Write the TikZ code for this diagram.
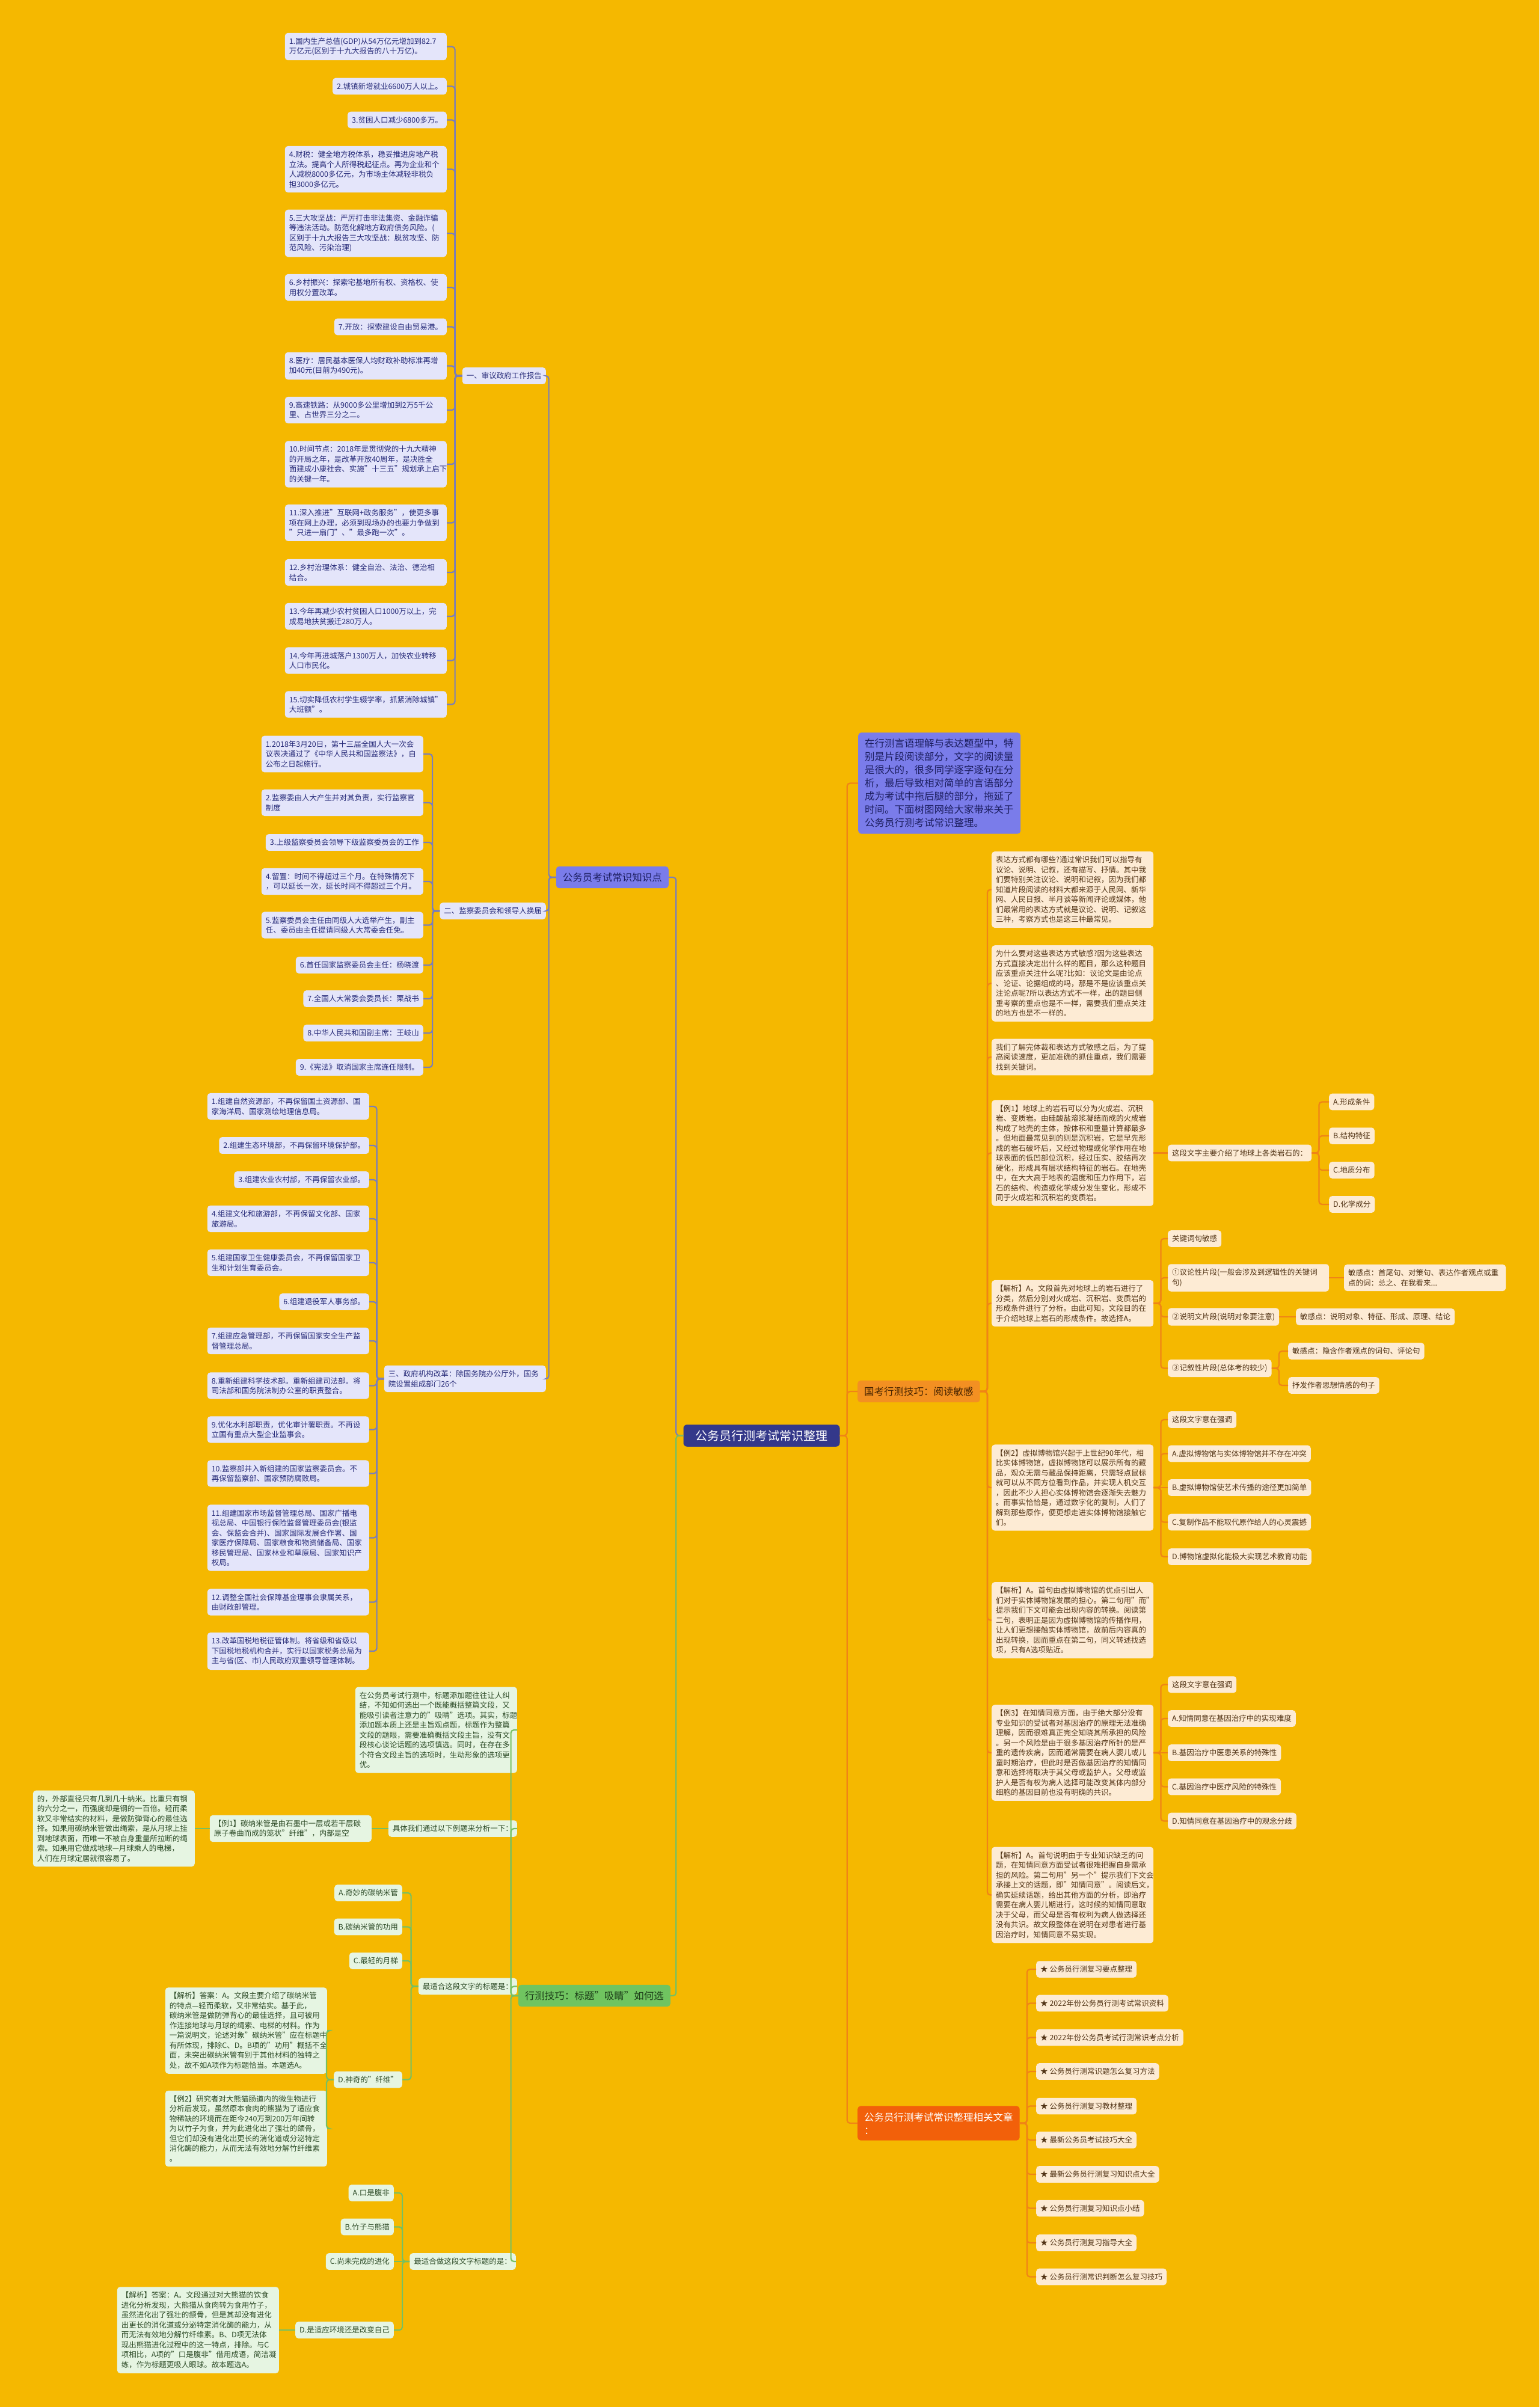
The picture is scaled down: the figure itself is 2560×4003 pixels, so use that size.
\documentclass[tikz,border=0pt]{standalone}
\usepackage{fontspec}
\setmainfont{Noto Sans CJK SC}
\usetikzlibrary{calc}
\definecolor{bgc}{RGB}{245,184,0}
\definecolor{lavfill}{RGB}{228,229,250}
\definecolor{lavtext}{RGB}{38,42,120}
\definecolor{lavline}{RGB}{122,126,186}
\definecolor{perifill}{RGB}{122,124,234}
\definecolor{peritext}{RGB}{28,30,95}
\definecolor{navyc}{RGB}{52,56,138}
\definecolor{grnfill}{RGB}{230,245,226}
\definecolor{grntext}{RGB}{44,74,38}
\definecolor{grnline}{RGB}{118,192,98}
\definecolor{grnhead}{RGB}{112,196,96}
\definecolor{grnheadtext}{RGB}{28,60,24}
\definecolor{orgfill}{RGB}{253,235,212}
\definecolor{orgtext}{RGB}{82,52,22}
\definecolor{orgline}{RGB}{240,132,22}
\definecolor{orghead}{RGB}{243,144,34}
\definecolor{orgheadtext}{RGB}{72,36,0}
\definecolor{redhead}{RGB}{242,96,10}
\newcommand\mmsmall{\fontsize{12.5}{16.5}\selectfont}
\newcommand\mmmid{\fontsize{16.5}{22}\selectfont}
\newcommand\mmbig{\fontsize{20}{24}\selectfont}
\tikzset{
  box/.style={rounded corners=5pt, align=left, inner xsep=7pt, inner ysep=8pt, font=\mmsmall},
  lav/.style={box, fill=lavfill, text=lavtext},
  grn/.style={box, fill=grnfill, text=grntext},
  org/.style={box, fill=orgfill, text=orgtext},
  tw/.style={text width=255pt},
  head/.style={rounded corners=5pt, align=left, inner xsep=11pt, inner ysep=10.5pt, font=\mmmid},
  lcon/.style={draw=lavline, line width=2.2pt, rounded corners=5pt},
  gcon/.style={draw=grnline, line width=2.2pt, rounded corners=5pt},
  ocon/.style={draw=orgline, line width=2.2pt, rounded corners=5pt},
}
\newcommand\cL[3]{\draw[#1] (#2.west) -- ++(-12,0) |- (#3.east);}
\newcommand\cR[3]{\draw[#1] (#2.east) -- ++(12,0) |- (#3.west);}
\begin{document}
\begin{tikzpicture}[x=1pt,y=-1pt]
\fill[bgc] (0,0) rectangle (2560,4003);
\useasboundingbox (0,0) rectangle (2560,4003);

% ---------- centre ----------
\node[fill=navyc, text=white, rounded corners=6pt, font=\mmbig, inner xsep=20pt, inner ysep=9pt] (C) at (1266.5,2387.5) {公务员行测考试常识整理};

% ---------- left: 公务员考试常识知识点 ----------
\node[head, fill=perifill, text=peritext, anchor=east] (K) at (1112,1459) {公务员考试常识知识点};
\node[lav, anchor=east] (s1) at (908,625) {一、审议政府工作报告};
\node[lav, anchor=east] (s2) at (908,1515) {二、监察委员会和领导人换届};
\node[lav, tw, anchor=east] (s3) at (908,2293) {三、政府机构改革：除国务院办公厅外，国务\\院设置组成部门26个};

\node[lav, tw, anchor=east] (n1) at (743,77.5) {1.国内生产总值(GDP)从54万亿元增加到82.7\\万亿元(区别于十九大报告的八十万亿)。};
\node[lav, anchor=east] (n2) at (743,143.5) {2.城镇新增就业6600万人以上。};
\node[lav, anchor=east] (n3) at (743,199.5) {3.贫困人口减少6800多万。};
\node[lav, tw, anchor=east] (n4) at (743,281.5) {4.财税：健全地方税体系，稳妥推进房地产税\\立法。提高个人所得税起征点。再为企业和个\\人减税8000多亿元，为市场主体减轻非税负\\担3000多亿元。};
\node[lav, tw, anchor=east] (n5) at (743,388) {5.三大攻坚战：严厉打击非法集资、金融诈骗\\等违法活动。防范化解地方政府债务风险。(\\区别于十九大报告三大攻坚战：脱贫攻坚、防\\范风险、污染治理)};
\node[lav, tw, anchor=east] (n6) at (743,478) {6.乡村振兴：探索宅基地所有权、资格权、使\\用权分置改革。};
\node[lav, anchor=east] (n7) at (743,543.5) {7.开放：探索建设自由贸易港。};
\node[lav, tw, anchor=east] (n8) at (743,608.5) {8.医疗：居民基本医保人均财政补助标准再增\\加40元(目前为490元)。};
\node[lav, tw, anchor=east] (n9) at (743,682) {9.高速铁路：从9000多公里增加到2万5千公\\里、占世界三分之二。};
\node[lav, tw, anchor=east] (n10) at (743,772) {10.时间节点：2018年是贯彻党的十九大精神\\的开局之年，是改革开放40周年，是决胜全\\面建成小康社会、实施"十三五"规划承上启下\\的关键一年。};
\node[lav, tw, anchor=east] (n11) at (743,869.5) {11.深入推进"互联网+政务服务"，使更多事\\项在网上办理，必须到现场办的也要力争做到\\"只进一扇门"、"最多跑一次"。};
\node[lav, tw, anchor=east] (n12) at (743,952) {12.乡村治理体系：健全自治、法治、德治相\\结合。};
\node[lav, tw, anchor=east] (n13) at (743,1025) {13.今年再减少农村贫困人口1000万以上，完\\成易地扶贫搬迁280万人。};
\node[lav, tw, anchor=east] (n14) at (743,1098.5) {14.今年再进城落户1300万人，加快农业转移\\人口市民化。};
\node[lav, tw, anchor=east] (n15) at (743,1171.5) {15.切实降低农村学生辍学率，抓紧消除城镇"\\大班额"。};

\node[lav, tw, anchor=east] (m1) at (704,1254) {1.2018年3月20日，第十三届全国人大一次会\\议表决通过了《中华人民共和国监察法》，自\\公布之日起施行。};
\node[lav, tw, anchor=east] (m2) at (704,1335) {2.监察委由人大产生并对其负责，实行监察官\\制度};
\node[lav, anchor=east] (m3) at (704,1401) {3.上级监察委员会领导下级监察委员会的工作};
\node[lav, tw, anchor=east] (m4) at (704,1466) {4.留置：时间不得超过三个月。在特殊情况下\\，可以延长一次，延长时间不得超过三个月。};
\node[lav, tw, anchor=east] (m5) at (704,1538.5) {5.监察委员会主任由同级人大选举产生，副主\\任、委员由主任提请同级人大常委会任免。};
\node[lav, anchor=east] (m6) at (704,1605) {6.首任国家监察委员会主任：杨晓渡};
\node[lav, anchor=east] (m7) at (704,1661) {7.全国人大常委会委员长：栗战书};
\node[lav, anchor=east] (m8) at (704,1718) {8.中华人民共和国副主席：王岐山};
\node[lav, anchor=east] (m9) at (704,1775) {9.《宪法》取消国家主席连任限制。};

\node[lav, tw, anchor=east] (g1) at (614,1840) {1.组建自然资源部，不再保留国土资源部、国\\家海洋局、国家测绘地理信息局。};
\node[lav, anchor=east] (g2) at (614,1905) {2.组建生态环境部，不再保留环境保护部。};
\node[lav, anchor=east] (g3) at (614,1962) {3.组建农业农村部，不再保留农业部。};
\node[lav, tw, anchor=east] (g4) at (614,2027) {4.组建文化和旅游部，不再保留文化部、国家\\旅游局。};
\node[lav, tw, anchor=east] (g5) at (614,2100) {5.组建国家卫生健康委员会，不再保留国家卫\\生和计划生育委员会。};
\node[lav, anchor=east] (g6) at (614,2165) {6.组建退役军人事务部。};
\node[lav, tw, anchor=east] (g7) at (614,2230) {7.组建应急管理部，不再保留国家安全生产监\\督管理总局。};
\node[lav, tw, anchor=east] (g8) at (614,2304.5) {8.重新组建科学技术部。重新组建司法部。将\\司法部和国务院法制办公室的职责整合。};
\node[lav, tw, anchor=east] (g9) at (614,2377.5) {9.优化水利部职责，优化审计署职责。不再设\\立国有重点大型企业监事会。};
\node[lav, tw, anchor=east] (g10) at (614,2450.5) {10.监察部并入新组建的国家监察委员会。不\\再保留监察部、国家预防腐败局。};
\node[lav, tw, anchor=east] (g11) at (614,2557.5) {11.组建国家市场监督管理总局、国家广播电\\视总局、中国银行保险监督管理委员会(银监\\会、保监会合并)、国家国际发展合作署、国\\家医疗保障局、国家粮食和物资储备局、国家\\移民管理局、国家林业和草原局、国家知识产\\权局。};
\node[lav, tw, anchor=east] (g12) at (614,2664.5) {12.调整全国社会保障基金理事会隶属关系，\\由财政部管理。};
\node[lav, tw, anchor=east] (g13) at (614,2746) {13.改革国税地税征管体制。将省级和省级以\\下国税地税机构合并，实行以国家税务总局为\\主与省(区、市)人民政府双重领导管理体制。};

% ---------- left: 行测技巧 ----------
\node[head, fill=grnhead, text=grnheadtext, anchor=east] (T) at (1115,3319) {行测技巧：标题"吸睛"如何选};
\node[grn, tw, anchor=east] (t1) at (860,2877) {在公务员考试行测中，标题添加题往往让人纠\\结，不知如何选出一个既能概括整篇文段，又\\能吸引读者注意力的"吸睛"选项。其实，标题\\添加题本质上还是主旨观点题，标题作为整篇\\文段的题眼，需要准确概括文段主旨，没有文\\段核心谈论话题的选项慎选。同时，在存在多\\个符合文段主旨的选项时，生动形象的选项更\\优。};
\node[grn, anchor=east] (t2) at (860,3041) {具体我们通过以下例题来分析一下：};
\node[grn, tw, anchor=east] (e1) at (618,3041) {【例1】碳纳米管是由石墨中一层或若干层碳\\原子卷曲而成的笼状"纤维"，内部是空};
\node[grn, tw, anchor=east] (e1b) at (324,3041) {的，外部直径只有几到几十纳米。比重只有钢\\的六分之一，而强度却是钢的一百倍。轻而柔\\软又非常结实的材料，是做防弹背心的最佳选\\择。如果用碳纳米管做出绳索，是从月球上挂\\到地球表面，而唯一不被自身重量所拉断的绳\\索。如果用它做成地球—月球乘人的电梯，\\人们在月球定居就很容易了。};
\node[grn, anchor=east] (t3) at (860,3303.5) {最适合这段文字的标题是：};
\node[grn, anchor=east] (a1) at (669,3148) {A.奇妙的碳纳米管};
\node[grn, anchor=east] (b1) at (669,3204.5) {B.碳纳米管的功用};
\node[grn, anchor=east] (c1) at (669,3261) {C.最轻的月梯};
\node[grn, anchor=east] (d1) at (669,3458.5) {D.神奇的"纤维"};
\node[grn, tw, anchor=east] (j1) at (544,3377) {【解析】答案：A。文段主要介绍了碳纳米管\\的特点—轻而柔软，又非常结实。基于此，\\碳纳米管是做防弹背心的最佳选择，且可被用\\作连接地球与月球的绳索、电梯的材料。作为\\一篇说明文，论述对象"碳纳米管"应在标题中\\有所体现，排除C、D。B项的"功用"概括不全\\面，未突出碳纳米管有别于其他材料的独特之\\处，故不如A项作为标题恰当。本题选A。};
\node[grn, tw, anchor=east] (x2) at (544,3540) {【例2】研究者对大熊猫肠道内的微生物进行\\分析后发现，虽然原本食肉的熊猫为了适应食\\物稀缺的环境而在距今240万到200万年间转\\为以竹子为食，并为此进化出了强壮的颌骨，\\但它们却没有进化出更长的消化道或分泌特定\\消化酶的能力，从而无法有效地分解竹纤维素\\。};
\node[grn, anchor=east] (t4) at (858,3761) {最适合做这段文字标题的是：};
\node[grn, anchor=east] (a2) at (655,3647) {A.口是腹非};
\node[grn, anchor=east] (b2) at (655,3703.5) {B.竹子与熊猫};
\node[grn, anchor=east] (c2) at (655,3761) {C.尚未完成的进化};
\node[grn, anchor=east] (d2) at (655,3875) {D.是适应环境还是改变自己};
\node[grn, tw, anchor=east] (j2) at (464,3875) {【解析】答案：A。文段通过对大熊猫的饮食\\进化分析发现，大熊猫从食肉转为食用竹子，\\虽然进化出了强壮的颌骨，但是其却没有进化\\出更长的消化道或分泌特定消化酶的能力，从\\而无法有效地分解竹纤维素。B、D项无法体\\现出熊猫进化过程中的这一特点，排除。与C\\项相比，A项的"口是腹非"借用成语，简洁凝\\练，作为标题更吸人眼球。故本题选A。};

% ---------- right ----------
\node[head, fill=perifill, text=peritext, text width=248pt, anchor=west] (P) at (1427,1302.5) {在行测言语理解与表达题型中，特\\别是片段阅读部分，文字的阅读量\\是很大的，很多同学逐字逐句在分\\析，最后导致相对简单的言语部分\\成为考试中拖后腿的部分，拖延了\\时间。下面树图网给大家带来关于\\公务员行测考试常识整理。};
\node[head, fill=orghead, text=orgheadtext, anchor=west] (G) at (1426,2314) {国考行测技巧：阅读敏感};
\node[head, fill=redhead, text=white, anchor=west] (R) at (1426,3531) {公务员行测考试常识整理相关文章\\：};

\node[org, tw, anchor=west] (r1) at (1649,1479.5) {表达方式都有哪些?通过常识我们可以指导有\\议论、说明、记叙，还有描写、抒情。其中我\\们要特别关注议论、说明和记叙，因为我们都\\知道片段阅读的材料大都来源于人民网、新华\\网、人民日报、半月谈等新闻评论或媒体，他\\们最常用的表达方式就是议论、说明、记叙这\\三种，考察方式也是这三种最常见。};
\node[org, tw, anchor=west] (r2) at (1649,1635.5) {为什么要对这些表达方式敏感?因为这些表达\\方式直接决定出什么样的题目，那么这种题目\\应该重点关注什么呢?比如：议论文是由论点\\、论证、论据组成的吗，那是不是应该重点关\\注论点呢?所以表达方式不一样，出的题目侧\\重考察的重点也是不一样，需要我们重点关注\\的地方也是不一样的。};
\node[org, tw, anchor=west] (r3) at (1649,1758) {我们了解完体裁和表达方式敏感之后，为了提\\高阅读速度，更加准确的抓住重点，我们需要\\找到关键词。};
\node[org, tw, anchor=west] (q1) at (1649,1917.5) {【例1】地球上的岩石可以分为火成岩、沉积\\岩、变质岩。由硅酸盐溶浆凝结而成的火成岩\\构成了地壳的主体，按体积和重量计算都最多\\。但地面最常见到的则是沉积岩，它是早先形\\成的岩石破坏后，又经过物理或化学作用在地\\球表面的低凹部位沉积，经过压实、胶结再次\\硬化，形成具有层状结构特征的岩石。在地壳\\中，在大大高于地表的温度和压力作用下，岩\\石的结构、构造或化学成分发生变化，形成不\\同于火成岩和沉积岩的变质岩。};
\node[org, tw, anchor=west] (p1) at (1649,2167.5) {【解析】A。文段首先对地球上的岩石进行了\\分类，然后分别对火成岩、沉积岩、变质岩的\\形成条件进行了分析。由此可知，文段目的在\\于介绍地球上岩石的形成条件。故选择A。};
\node[org, tw, anchor=west] (q2) at (1649,2474) {【例2】虚拟博物馆兴起于上世纪90年代，相\\比实体博物馆，虚拟博物馆可以展示所有的藏\\品，观众无需与藏品保持距离，只需轻点鼠标\\就可以从不同方位看到作品，并实现人机交互\\，因此不少人担心实体博物馆会逐渐失去魅力\\。而事实恰恰是，通过数字化的复制，人们了\\解到那些原作，便更想走进实体博物馆接触它\\们。};
\node[org, tw, anchor=west] (p2) at (1649,2694.5) {【解析】A。首句由虚拟博物馆的优点引出人\\们对于实体博物馆发展的担心。第二句用"而"\\提示我们下文可能会出现内容的转换。阅读第\\二句，表明正是因为虚拟博物馆的传播作用，\\让人们更想接触实体博物馆，故前后内容真的\\出现转换，因而重点在第二句，同义转述找选\\项，只有A选项贴近。};
\node[org, tw, anchor=west] (q3) at (1649,2915) {【例3】在知情同意方面，由于绝大部分没有\\专业知识的受试者对基因治疗的原理无法准确\\理解，因而很难真正完全知晓其所承担的风险\\。另一个风险是由于很多基因治疗所针的是严\\重的遗传疾病，因而通常需要在病人婴儿或儿\\童时期治疗，但此时是否做基因治疗的知情同\\意和选择将取决于其父母或监护人。父母或监\\护人是否有权为病人选择可能改变其体内部分\\细胞的基因目前也没有明确的共识。};
\node[org, tw, anchor=west] (p3) at (1649,3151.5) {【解析】A。首句说明由于专业知识缺乏的问\\题，在知情同意方面受试者很难把握自身需承\\担的风险。第二句用"另一个"提示我们下文会\\承接上文的话题，即"知情同意"。阅读后文，\\确实延续话题，给出其他方面的分析，即治疗\\需要在病人婴儿期进行，这时候的知情同意取\\决于父母，而父母是否有权利为病人做选择还\\没有共识。故文段整体在说明在对患者进行基\\因治疗时，知情同意不易实现。};

\node[org, anchor=west] (u1) at (1942,1917.5) {这段文字主要介绍了地球上各类岩石的：};
\node[org, anchor=west] (ua) at (2210,1832.5) {A.形成条件};
\node[org, anchor=west] (ub) at (2210,1889) {B.结构特征};
\node[org, anchor=west] (uc) at (2210,1946) {C.地质分布};
\node[org, anchor=west] (ud) at (2210,2003) {D.化学成分};

\node[org, anchor=west] (k0) at (1942,2060) {关键词句敏感};
\node[org, text width=254pt, anchor=west] (k1) at (1942,2125) {①议论性片段(一般会涉及到逻辑性的关键词\\句)};
\node[org, anchor=west] (k2) at (1942,2190) {②说明文片段(说明对象要注意)};
\node[org, anchor=west] (k3) at (1942,2275.5) {③记叙性片段(总体考的较少)};
\node[org, tw, anchor=west] (k1a) at (2235,2125) {敏感点：首尾句、对策句、表达作者观点或重\\点的词：总之、在我看来...};
\node[org, anchor=west] (k2a) at (2155,2190) {敏感点：说明对象、特征、形成、原理、结论};
\node[org, anchor=west] (k3a) at (2142,2247) {敏感点：隐含作者观点的词句、评论句};
\node[org, anchor=west] (k3b) at (2142,2304) {抒发作者思想情感的句子};

\node[org, anchor=west] (v0) at (1942,2361) {这段文字意在强调};
\node[org, anchor=west] (va) at (1942,2417.5) {A.虚拟博物馆与实体博物馆并不存在冲突};
\node[org, anchor=west] (vb) at (1942,2474) {B.虚拟博物馆使艺术传播的途径更加简单};
\node[org, anchor=west] (vc) at (1942,2531.5) {C.复制作品不能取代原作给人的心灵震撼};
\node[org, anchor=west] (vd) at (1942,2589) {D.博物馆虚拟化能极大实现艺术教育功能};

\node[org, anchor=west] (w0) at (1942,2801.5) {这段文字意在强调};
\node[org, anchor=west] (wa) at (1942,2858) {A.知情同意在基因治疗中的实现难度};
\node[org, anchor=west] (wb) at (1942,2915) {B.基因治疗中医患关系的特殊性};
\node[org, anchor=west] (wc) at (1942,2971.5) {C.基因治疗中医疗风险的特殊性};
\node[org, anchor=west] (wd) at (1942,3028.5) {D.知情同意在基因治疗中的观念分歧};

\node[org, anchor=west] (z1) at (1723,3275) {★ 公务员行测复习要点整理};
\node[org, anchor=west] (z2) at (1723,3331.5) {★ 2022年份公务员行测考试常识资料};
\node[org, anchor=west] (z3) at (1723,3388.5) {★ 2022年份公务员考试行测常识考点分析};
\node[org, anchor=west] (z4) at (1723,3445) {★ 公务员行测常识题怎么复习方法};
\node[org, anchor=west] (z5) at (1723,3502.5) {★ 公务员行测复习教材整理};
\node[org, anchor=west] (z6) at (1723,3559) {★ 最新公务员考试技巧大全};
\node[org, anchor=west] (z7) at (1723,3616) {★ 最新公务员行测复习知识点大全};
\node[org, anchor=west] (z8) at (1723,3672.5) {★ 公务员行测复习知识点小结};
\node[org, anchor=west] (z9) at (1723,3730) {★ 公务员行测复习指导大全};
\node[org, anchor=west] (z10) at (1723,3786.5) {★ 公务员行测常识判断怎么复习技巧};

% ---------- connectors ----------
\cL{lcon}{C}{K}
\cL{gcon}{C}{T}
\cR{ocon}{C}{P}
\cR{ocon}{C}{G}
\cR{ocon}{C}{R}

\foreach \c in {s1,s2,s3} {\cL{lcon}{K}{\c}}
\foreach \c in {n1,n2,n3,n4,n5,n6,n7,n8,n9,n10,n11,n12,n13,n14,n15} {\cL{lcon}{s1}{\c}}
\foreach \c in {m1,m2,m3,m4,m5,m6,m7,m8,m9} {\cL{lcon}{s2}{\c}}
\foreach \c in {g1,g2,g3,g4,g5,g6,g7,g8,g9,g10,g11,g12,g13} {\cL{lcon}{s3}{\c}}

\foreach \c in {t1,t2,t3,t4} {\cL{gcon}{T}{\c}}
\draw[gcon] (t2.west) -- (e1.east);
\draw[gcon] (e1.west) -- (e1b.east);
\foreach \c in {a1,b1,c1,d1} {\cL{gcon}{t3}{\c}}
\foreach \c in {j1,x2} {\cL{gcon}{d1}{\c}}
\foreach \c in {a2,b2,d2} {\cL{gcon}{t4}{\c}}
\draw[gcon] (t4.west) -- (c2.east);
\draw[gcon] (d2.west) -- (j2.east);

\foreach \c in {r1,r2,r3,q1,p1,q2,p2,q3,p3} {\cR{ocon}{G}{\c}}
\draw[ocon] (q1.east) -- (u1.west);
\foreach \c in {ua,ub,uc,ud} {\cR{ocon}{u1}{\c}}
\foreach \c in {k0,k1,k2,k3} {\cR{ocon}{p1}{\c}}
\draw[ocon] (k1.east) -- (k1a.west);
\draw[ocon] (k2.east) -- (k2a.west);
\foreach \c in {k3a,k3b} {\cR{ocon}{k3}{\c}}
\foreach \c in {v0,va,vc,vd} {\cR{ocon}{q2}{\c}}
\draw[ocon] (q2.east) -- (vb.west);
\foreach \c in {w0,wa,wc,wd} {\cR{ocon}{q3}{\c}}
\draw[ocon] (q3.east) -- (wb.west);
\foreach \c in {z1,z2,z3,z4,z5,z6,z7,z8,z9,z10} {\cR{ocon}{R}{\c}}
\end{tikzpicture}
\end{document}
